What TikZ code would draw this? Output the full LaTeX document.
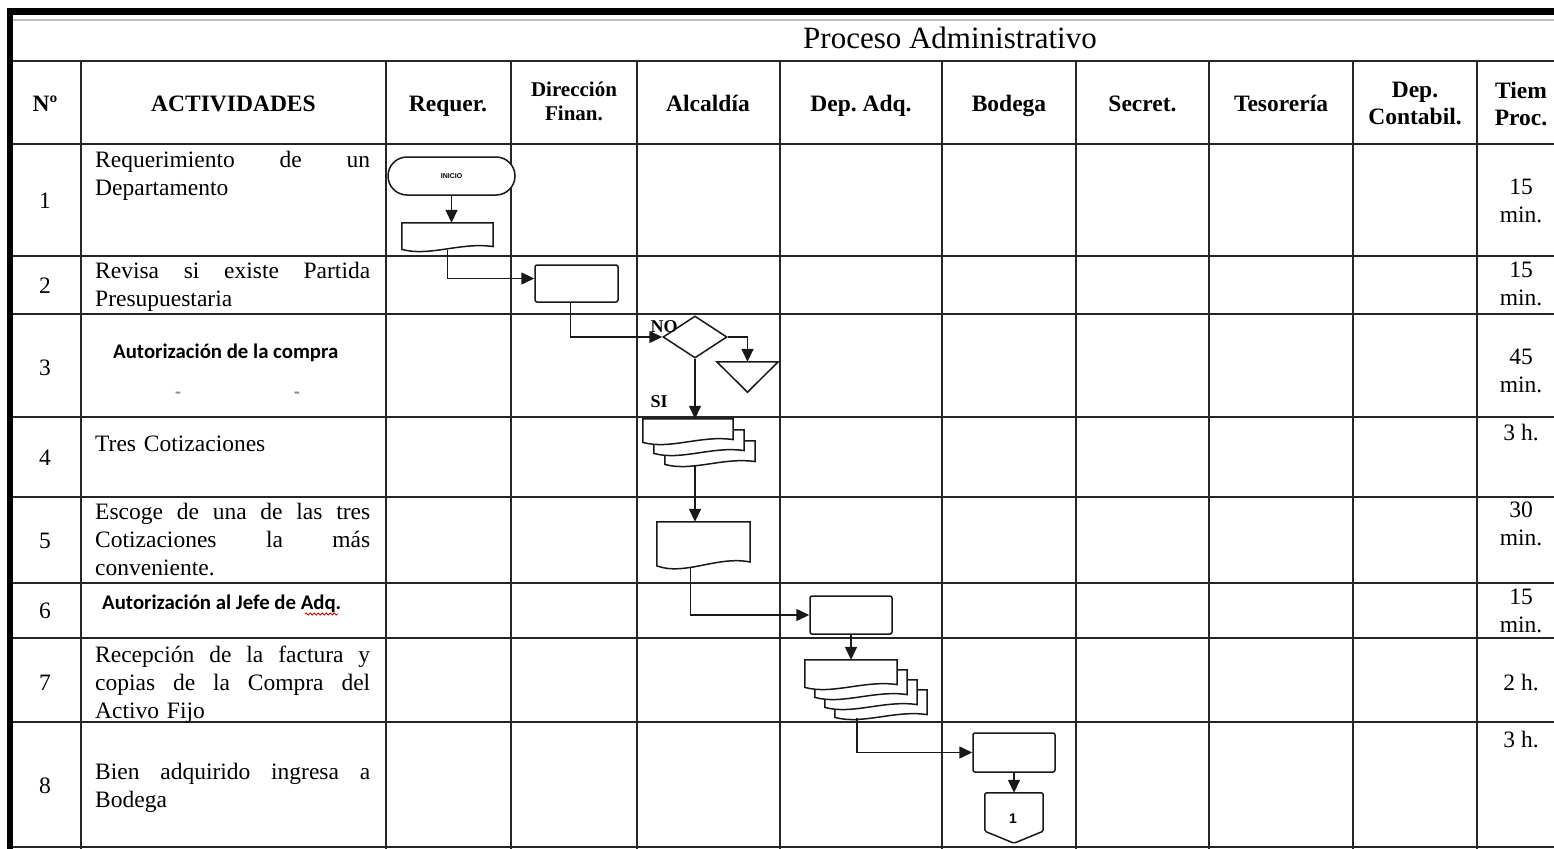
\documentclass[tikz,border=0pt]{standalone}
\usepackage{fontspec}
\setmainfont{Liberation Serif}
\newfontfamily\calfont{Carlito}
\newfontfamily\sansfont{Liberation Sans}
\usetikzlibrary{shapes.misc,shapes.geometric,arrows.meta,calc,decorations.pathmorphing}
\frenchspacing

\tikzset{
  grid/.style={line width=1.6pt, draw=black!85},
  shp/.style={draw=black!90, line width=1.5pt, fill=white, inner sep=0pt},
  arr/.style={line width=1.5pt, draw=black!90, -{Triangle[length=13pt,width=12pt]}},
  term/.style={shp, rounded rectangle},
  proc/.style={shp, rectangle, rounded corners=2pt},
  holder/.style={draw=none, inner sep=0pt, rectangle},
  hdr/.style={font=\bfseries\fontsize{23.5}{27}\selectfont, align=center, inner sep=0pt},
  hdrsm/.style={font=\bfseries\fontsize{21}{24}\selectfont, align=center, inner sep=0pt},
  act/.style={anchor=north west, text width=275pt, align=left, inner sep=0pt,
              font=\fontsize{23.5}{28}\selectfont},
  actb/.style={anchor=base west, inner sep=0pt, font=\calfont\bfseries\fontsize{20.8}{24}\selectfont},
  num/.style={anchor=base, inner sep=0pt, font=\fontsize{23.5}{28}\selectfont},
  tm/.style={anchor=north, align=center, inner sep=0pt, font=\fontsize{23.5}{28}\selectfont},
  lbl/.style={inner sep=0pt, font=\bfseries\fontsize{18}{20}\selectfont},
  tick/.style={inner sep=0pt, font=\calfont\bfseries\fontsize{19}{20}\selectfont, text=black!45}
}

% document symbol (flat top, wavy bottom) drawn around a holder node,
% shifted by (#2,#3); #4 sets the depth of the wave
\newcommand{\docsheet}[4]{%
  \draw[shp] ($(#1.north west)+(#2,#3)$) -- ($(#1.north east)+(#2,#3)$)
    -- ($(#1.south east)+(#2,#3-0.4*#4)$)
    .. controls ($(#1.south east)!0.35!(#1.south west)+(#2,#3-1.6*#4)$)
    and ($(#1.south east)!0.7!(#1.south west)+(#2,#3+2.2*#4)$)
    .. ($(#1.south west)+(#2,#3+0.3*#4)$) -- cycle;}

\begin{document}
\begin{tikzpicture}[x=1pt,y=-1pt]
\useasboundingbox (0,0) rectangle (1554,848);
\clip (0,0) rectangle (1554,848);

% ---- outer frame and title band
\fill[black] (7,8) rectangle (1570,15);
\fill[black] (7,8) rectangle (13,870);
\draw[black!25, line width=1.4pt] (13,20) -- (1570,20);

% ---- table rules
\foreach \y in {61,144,256,314,417,497,583,638,722,847}
  \draw[grid] (13,\y) -- (1570,\y);
\foreach \x in {81,386,511,637,780,942,1076,1209,1353,1477}
  \draw[grid] (\x,61) -- (\x,870);

% ---- title and column headings
\node[anchor=base, inner sep=0pt, font=\fontsize{31}{36}\selectfont] (title) at (950,49) {Proceso Administrativo};
\node[hdr, anchor=base] (hN)   at (45,111)   {Nº};
\node[hdr, anchor=base] (hAct) at (233.5,111) {ACTIVIDADES};
\node[hdr, anchor=base] (hReq) at (448,111)  {Requer.};
\node[hdrsm, anchor=north] (hDir) at (574,82) {Dirección\\Finan.};
\node[hdr, anchor=base] (hAlc) at (708,111)  {Alcaldía};
\node[hdr, anchor=base] (hAdq) at (861,111)  {Dep. Adq.};
\node[hdr, anchor=base] (hBod) at (1009,111) {Bodega};
\node[hdr, anchor=base] (hSec) at (1142.5,111) {Secret.};
\node[hdr, anchor=base] (hTes) at (1281,111) {Tesorería};
\node[hdr, anchor=north] (hCon) at (1415,82) {Dep.\\Contabil.};
\node[hdr, anchor=north] (hTie) at (1521,82) {Tiem\\Proc.};

% ---- row numbers
\node[num] (n1) at (45,208) {1};
\node[num] (n2) at (45,293) {2};
\node[num] (n3) at (45,375) {3};
\node[num] (n4) at (45,465) {4};
\node[num] (n5) at (45,548) {5};
\node[num] (n6) at (45,618) {6};
\node[num] (n7) at (45,690) {7};
\node[num] (n8) at (45,793) {8};

% ---- activities
\node[act] (a1) at (95,151) {Requerimiento\hfill de\hfill un\\Departamento};
\node[act] (a2) at (95,262) {Revisa\hfill si\hfill existe\hfill Partida\\Presupuestaria};
\node[actb] (a3) at (113,358) {Autorización de la compra};
\node[tick] (a3d1) at (178,395) {-};
\node[tick] (a3d2) at (297,395) {-};
\node[act] (a4) at (95,436) {Tres Cotizaciones};
\node[act] (a5) at (95,503) {Escoge\hfill de\hfill una\hfill de\hfill las\hfill tres\\Cotizaciones\hfill la\hfill más\\conveniente.};
\node[actb] (a6) at (102,609) {Autorización al Jefe de Adq.};
\draw[red!85!black, line width=0.8pt, decorate, decoration={snake, amplitude=1.1pt, segment length=4pt}]
  (305,614) -- (338,614);
\node[act] (a7) at (95,646) {Recepción\hfill de\hfill la\hfill factura\hfill y\\copias\hfill de\hfill la\hfill Compra\hfill del\\Activo Fijo};
\node[act] (a8) at (95,763) {Bien\hfill adquirido\hfill ingresa\hfill a\\Bodega};

% ---- process times
\node[tm] (t1) at (1521,179) {15\\min.};
\node[tm] (t2) at (1521,262) {15\\min.};
\node[tm] (t3) at (1521,349) {45\\min.};
\node[tm] (t4) at (1521,424) {3 h.};
\node[tm] (t5) at (1521,502) {30\\min.};
\node[tm] (t6) at (1521,589) {15\\min.};
\node[tm] (t7) at (1521,674) {2 h.};
\node[tm] (t8) at (1521,731) {3 h.};

% ---- flow symbols
\node[term, minimum width=127pt, minimum height=38pt, font=\sansfont\bfseries\fontsize{7}{8}\selectfont]
  (start) at (451.5,176) {INICIO};

\node[holder, minimum width=91pt, minimum height=25pt] (doc1) at (447.5,235.5) {};
\docsheet{doc1}{0}{0}{4}

\node[proc, minimum width=83pt, minimum height=37pt] (box2) at (576.5,283.5) {};
\node[shp, diamond, minimum width=64pt, minimum height=42pt] (dia) at (695,337) {};
\node[holder, minimum width=61pt, minimum height=30pt] (arch) at (747.5,377) {};
\draw[shp] (arch.north west) -- (arch.north east) -- (arch.south) -- cycle;

% three quotations: stacked documents
\node[holder, minimum width=90pt, minimum height=22pt] (md1) at (688,430) {};
\docsheet{md1}{22}{22}{4}
\docsheet{md1}{11}{11}{4}
\docsheet{md1}{0}{0}{4}

\node[holder, minimum width=93pt, minimum height=42pt] (doc5) at (703.5,543) {};
\docsheet{doc5}{0}{0}{5.5}

\node[proc, minimum width=82pt, minimum height=38pt] (box6) at (851,615) {};

% invoice and copies: stacked documents
\node[holder, minimum width=92pt, minimum height=26pt] (md2) at (851,673) {};
\docsheet{md2}{30}{30}{4}
\docsheet{md2}{20}{20}{4}
\docsheet{md2}{10}{10}{4}
\docsheet{md2}{0}{0}{4}

\node[proc, minimum width=82pt, minimum height=39pt] (box8) at (1014,752.5) {};
\node[holder, minimum width=58pt, minimum height=50pt] (off) at (1014,818) {};
\draw[shp, rounded corners=1.5pt] (off.north west) -- (off.north east) -- ($(off.south east)+(0,-12)$)
  -- (off.south) -- ($(off.south west)+(0,-12)$) -- cycle;
\node[inner sep=0pt, font=\sansfont\bfseries\fontsize{14}{16}\selectfont] (offn) at (1013,819) {1};

% ---- decision labels
\node[lbl] (no) at (664,327) {NO};
\node[lbl] (si) at (659,402) {SI};

% ---- connectors
\draw[arr] (start.south) -- (start.south |- doc1.north);
\draw[arr] ([yshift=-2pt]doc1.south) |- ([yshift=5pt]box2.west);
\draw[arr] ([xshift=-6pt]box2.south) |- (dia.west);
\draw[arr] (dia.east) -| (arch.north);
\draw[arr] (dia.south) -- (dia.south |- md1.north);
\coordinate (md1b) at ([xshift=7pt,yshift=-24pt]md1.south);
\draw[arr] (md1b) -- (md1b |- doc5.north);
\draw[arr] ([xshift=-13pt,yshift=-4pt]doc5.south) |- (box6.west);
\draw[arr] (box6.south) -- (md2.north);
\coordinate (md2b) at ([xshift=6pt,yshift=-32pt]md2.south);
\draw[arr] (md2b) |- (box8.west);
\draw[arr] (box8.south) -- (off.north);
\end{tikzpicture}
\end{document}
